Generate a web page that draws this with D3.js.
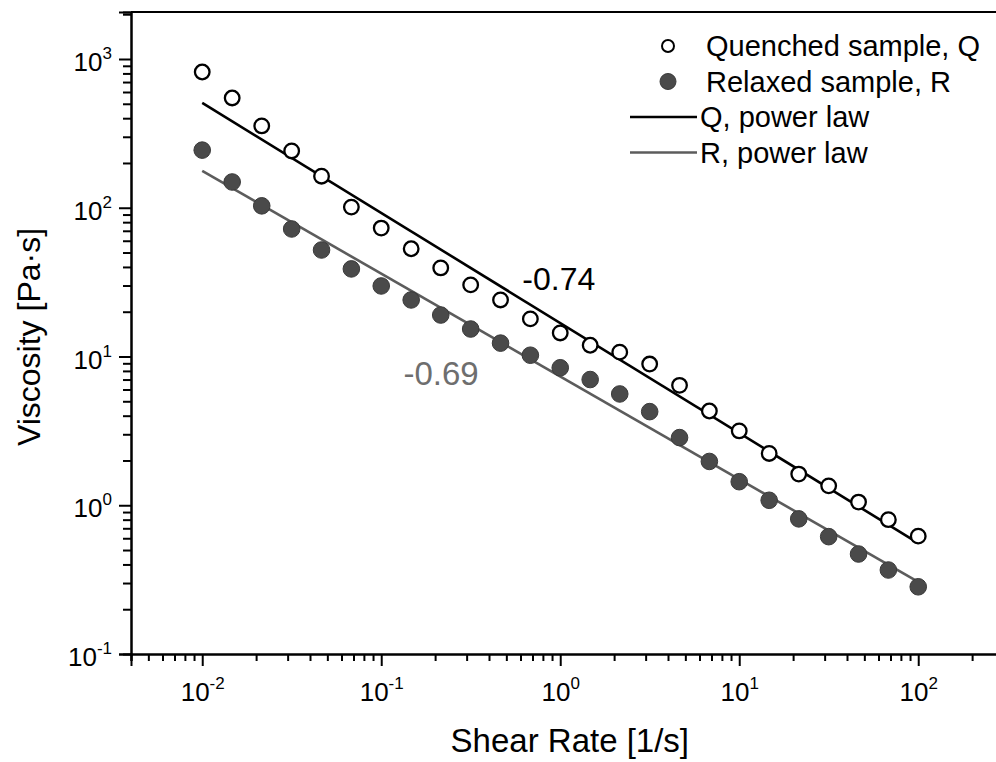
<!DOCTYPE html>
<html>
<head>
<meta charset="utf-8">
<script src="https://cdn.jsdelivr.net/npm/d3@7"></script>
<style>
    body { margin: 0; background: #fff; }
    text { font-family: "Liberation Sans", Arial, sans-serif; }
</style>
</head>
<body>
<svg id="canvas" width="996" height="762"></svg>
<script>
// data
var shearRate = [0.01, 0.0147, 0.0215, 0.0316, 0.0464, 0.0681, 0.1, 0.147, 0.215, 0.316, 0.464, 0.681,
                 1, 1.47, 2.15, 3.16, 4.64, 6.81, 10, 14.7, 21.5, 31.6, 46.4, 68.1, 100];
var quenched = [818, 547, 355, 241, 163, 101, 73, 53, 39.4, 30.3, 24, 17.9,
                14.4, 11.9, 10.7, 8.9, 6.4, 4.3, 3.16, 2.23, 1.62, 1.35, 1.05, 0.80, 0.62];
var relaxed = [244, 149, 103, 72, 52, 38.8, 29.8, 24, 19, 15.3, 12.3, 10.2,
               8.4, 7.0, 5.6, 4.26, 2.85, 1.97, 1.44, 1.08, 0.81, 0.615, 0.47, 0.367, 0.283];
// power law fits, end points [shear rate, viscosity]
var quenchedFit = [[0.01, 507], [100, 0.556]];
var relaxedFit = [[0.01, 177], [100, 0.305]];
var xMajorTicks = [0.01, 0.1, 1, 10, 100];
var yMajorTicks = [0.1, 1, 10, 100, 1000];
var slopeLabels = [
    { text: '-0.74', x: 0.614, y: 28, color: '#000', size: 32 },
    { text: '-0.69', x: 0.133, y: 6.4, color: '#6e6e6e', size: 33 }
];
var legendItems = [
    { label: 'Quenched sample, Q', type: 'open' },
    { label: 'Relaxed sample, R', type: 'filled' },
    { label: 'Q, power law', type: 'lineQ' },
    { label: 'R, power law', type: 'lineR' }
];

var svg = d3.select('#canvas'),
    plotLeft = 131, plotTop = 12, plotBottom = 654,
    decadeX = 179,
    xDomain = [0.004, 320],
    yDomain = [0.1, 2070];

var x = d3.scaleLog()
    .domain(xDomain)
    .range([plotLeft, plotLeft + decadeX * Math.log10(xDomain[1] / xDomain[0])]);
var y = d3.scaleLog()
    .domain(yDomain)
    .range([plotBottom, plotTop]);

var minorTicks = function(domain) {
    var out = [];
    for (var k = Math.floor(Math.log10(domain[0])); k <= Math.ceil(Math.log10(domain[1])); k++) {
        for (var m = 2; m <= 9; m++) {
            var v = m * Math.pow(10, k);
            if (v >= domain[0] && v <= domain[1]) out.push(v);
        }
    }
    return out;
};

var superscript = function(sel) {
    sel.each(function(d) {
        var t = d3.select(this).text('');
        t.append('tspan').text('10');
        t.append('tspan')
            .attr('dy', -12)
            .attr('font-size', '17px')
            .text(Math.round(Math.log10(d)));
    });
};

// axes
//
var gx = svg.append('g').attr('transform', 'translate(0,' + plotBottom + ')');
gx.append('g')
    .call(d3.axisBottom(x).tickValues(minorTicks(xDomain)).tickSize(7).tickFormat(''));
var gxMajor = gx.append('g')
    .call(d3.axisBottom(x).tickValues(xMajorTicks).tickSize(12));
gxMajor.selectAll('text')
    .attr('font-size', '26px')
    .attr('fill', '#000')
    .attr('dy', 0)
    .attr('y', 47)
    .call(superscript);

var gy = svg.append('g').attr('transform', 'translate(' + plotLeft + ',0)');
gy.append('g')
    .call(d3.axisLeft(y).tickValues(minorTicks(yDomain)).tickSize(8).tickFormat(''));
var gyMajor = gy.append('g')
    .call(d3.axisLeft(y).tickValues(yMajorTicks).tickSize(12).tickPadding(7));
gyMajor.selectAll('text')
    .attr('font-size', '26px')
    .attr('fill', '#000')
    .attr('dy', '0.45em')
    .call(superscript);

svg.selectAll('.domain').attr('stroke-width', 2).attr('stroke', '#000');
svg.selectAll('.tick line').attr('stroke-width', 2).attr('stroke', '#000');

// top frame line
svg.append('line')
    .attr('x1', plotLeft).attr('x2', x.range()[1])
    .attr('y1', plotTop).attr('y2', plotTop)
    .attr('stroke', '#000')
    .attr('stroke-width', 2);

// axis titles
svg.append('text')
    .attr('x', (x.range()[0] + x.range()[1]) / 2)
    .attr('y', 752)
    .attr('text-anchor', 'middle')
    .attr('font-size', '33px')
    .text('Shear Rate [1/s]');
svg.append('text')
    .attr('transform', 'translate(40,' + ((plotTop + plotBottom) / 2 + 4) + ') rotate(-90)')
    .attr('text-anchor', 'middle')
    .attr('font-size', '32px')
    .text('Viscosity [Pa\u00b7s]');

// fit lines
//
var line = d3.line()
    .x(function(d) { return x(d[0]); })
    .y(function(d) { return y(d[1]); });
svg.append('path')
    .attr('d', line(quenchedFit))
    .attr('fill', 'none')
    .attr('stroke', '#000')
    .attr('stroke-width', 2.6);
svg.append('path')
    .attr('d', line(relaxedFit))
    .attr('fill', 'none')
    .attr('stroke', '#5c5c5c')
    .attr('stroke-width', 2.6);

// points
//
svg.append('g').selectAll('circle')
    .data(shearRate)
    .join('circle')
        .attr('cx', function(d) { return x(d); })
        .attr('cy', function(d, i) { return y(quenched[i]); })
        .attr('r', 7.3)
        .attr('fill', '#fff')
        .attr('stroke', '#000')
        .attr('stroke-width', 2.3);
svg.append('g').selectAll('circle')
    .data(shearRate)
    .join('circle')
        .attr('cx', function(d) { return x(d); })
        .attr('cy', function(d, i) { return y(relaxed[i]); })
        .attr('r', 8.3)
        .attr('fill', '#4a4a4a')
        .attr('stroke', '#3a3a3a')
        .attr('stroke-width', 1);

// slope labels
svg.selectAll('.slope')
    .data(slopeLabels)
    .join('text')
        .attr('class', 'slope')
        .attr('x', function(d) { return x(d.x); })
        .attr('y', function(d) { return y(d.y); })
        .attr('fill', function(d) { return d.color; })
        .attr('font-size', function(d) { return d.size + 'px'; })
        .text(function(d) { return d.text; });

// legend
//
var legend = svg.append('g').attr('class', 'legend'),
    rowH = 35.5;
var item = legend.selectAll('g')
    .data(legendItems)
    .join('g')
        .attr('transform', function(d, i) { return 'translate(0,' + (46 + i * rowH) + ')'; });
item.filter(function(d) { return d.type === 'open'; })
    .append('circle')
        .attr('cx', 668).attr('r', 6)
        .attr('fill', '#fff').attr('stroke', '#000').attr('stroke-width', 2);
item.filter(function(d) { return d.type === 'filled'; })
    .append('circle')
        .attr('cx', 668).attr('r', 8)
        .attr('fill', '#4a4a4a').attr('stroke', '#3a3a3a').attr('stroke-width', 1);
item.filter(function(d) { return d.type.indexOf('line') === 0; })
    .append('line')
        .attr('x1', 630).attr('x2', 697)
        .attr('stroke', function(d) { return d.type === 'lineQ' ? '#000' : '#5c5c5c'; })
        .attr('stroke-width', 2.6);
item.append('text')
    .attr('x', function(d) { return d.type.indexOf('line') === 0 ? 700 : 706; })
    .attr('dy', '0.36em')
    .attr('font-size', '29px')
    .text(function(d) { return d.label; });
</script>
</body>
</html>
